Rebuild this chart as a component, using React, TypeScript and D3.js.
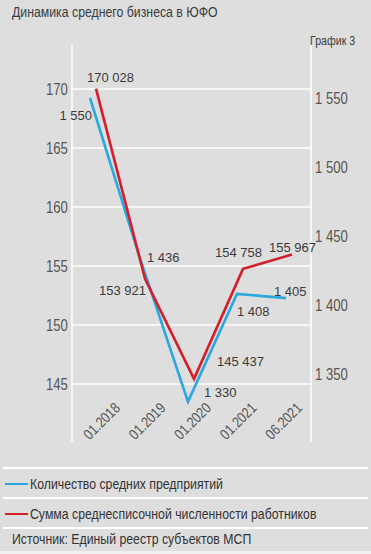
import React, { useEffect, useRef } from "react";
import * as d3 from "d3";

// chart data
const periods = ["01.2018", "01.2019", "01.2020", "01.2021", "06.2021"];
const enterprises = [1550, 1436, 1330, 1408, 1405];
const employees = [170028, 153921, 145437, 154758, 155967];
const leftTicks = [145, 150, 155, 160, 165, 170];
const rightTicks = [1350, 1400, 1450, 1500, 1550];

const title = "Динамика среднего бизнеса в ЮФО";
const chartNo = "График 3";
const legendBlue = "Количество средних предприятий";
const legendRed = "Сумма среднесписочной численности работников";
const source = "Источник: Единый реестр субъектов МСП";

// label offsets (layout only)
const redLabelPos = [
  { dx: -9, dy: -7, anchor: "start" },
  { dx: 1, dy: 16, anchor: "end" },
  { dx: 23, dy: -13, anchor: "start" },
  { dx: -28, dy: -12, anchor: "start" },
  { dx: -23, dy: -3, anchor: "start" },
];
const blueLabelPos = [
  { dx: 2, dy: 22, anchor: "end" },
  { dx: 8, dy: 7, anchor: "start" },
  { dx: 16, dy: -5, anchor: "start" },
  { dx: 0, dy: 22, anchor: "start" },
  { dx: -12, dy: -2, anchor: "start" },
];

const W = 371;
const H = 554;
const BLUE = "#2aa8df";
const RED = "#d21f2b";
const BG = "#dedede";
const FONT = "'Liberation Sans', Arial, sans-serif";
// no narrow font installed, so squeeze Liberation Sans like Arial Narrow
const SQUEEZE = 0.82;

const App = () => {
  const svgRef = useRef(null);

  useEffect(() => {
    const svg = d3.select(svgRef.current);
    svg.selectAll("*").remove();

    const fmt = d3.formatLocale({
      decimal: ",",
      thousands: " ",
      grouping: [3],
      currency: ["", ""],
    }).format(",");

    const narrow = (x, y, size, txt, fill = "#3c3c3c") =>
      svg.append("text")
        .attr("transform", `translate(${x},${y}) scale(${SQUEEZE},1)`)
        .attr("font-family", FONT).attr("font-size", size)
        .attr("fill", fill).text(txt);

    const plot = { left: 72, right: 311, top: 45, bottom: 442 };

    const x = d3.scalePoint().domain(periods).range([93, 289]);
    const xLab = d3.scalePoint().domain(periods).range([121, 303]);
    const yL = d3.scaleLinear().domain([145000, 170000]).range([384, 89]);
    const yR = d3.scaleLinear().domain([1350, 1550]).range([374, 98]);

    svg.append("rect").attr("width", W).attr("height", H).attr("fill", BG);

    // title
    narrow(12, 17, 15, title);
    narrow(310, 45, 13, chartNo);

    // grid lines
    svg.append("g")
      .selectAll("line")
      .data(leftTicks)
      .join("line")
      .attr("x1", plot.left).attr("x2", plot.right + 1)
      .attr("y1", (d) => yL(d * 1000)).attr("y2", (d) => yL(d * 1000))
      .attr("stroke", "#fff").attr("stroke-width", 1.5);

    [plot.left, plot.right].forEach((px) => {
      svg.append("line")
        .attr("x1", px).attr("x2", px)
        .attr("y1", plot.top).attr("y2", plot.bottom)
        .attr("stroke", "#fff").attr("stroke-width", 1.5);
    });

    // left axis
    const gl = svg.append("g")
      .attr("transform", `translate(${plot.left},0)`)
      .call(
        d3.axisLeft(yL)
          .tickValues(leftTicks.map((d) => d * 1000))
          .tickFormat((d) => String(+d / 1000))
          .tickSize(0)
          .tickPadding(5)
      );
    gl.select(".domain").remove();
    gl.selectAll("text")
      .attr("font-family", FONT).attr("font-size", 16).attr("fill", "#555")
      .attr("transform", `scale(${SQUEEZE},1)`);

    // right axis
    const gr = svg.append("g")
      .attr("transform", `translate(${plot.right},0)`)
      .call(
        d3.axisRight(yR)
          .tickValues(rightTicks)
          .tickFormat((d) => fmt(+d))
          .tickSize(0)
          .tickPadding(5)
      );
    gr.select(".domain").remove();
    gr.selectAll("text")
      .attr("font-family", FONT).attr("font-size", 16).attr("fill", "#555")
      .attr("transform", `scale(${SQUEEZE},1)`);

    // x labels
    svg.append("g")
      .selectAll("text")
      .data(periods)
      .join("text")
      .attr("transform", (d) => `translate(${xLab(d)},409) rotate(-45) scale(${SQUEEZE},1)`)
      .attr("text-anchor", "end")
      .attr("font-family", FONT).attr("font-size", 15)
      .attr("fill", "#555")
      .text((d) => d);

    // lines
    const redLine = d3.line<number>()
      .x((d, i) => (x(periods[i]) as number) + 3)
      .y((d) => yL(d));
    const blueLine = d3.line<number>()
      .x((d, i) => (x(periods[i]) as number) - 3)
      .y((d) => yR(d));

    svg.append("path")
      .datum(enterprises)
      .attr("d", blueLine)
      .attr("fill", "none").attr("stroke", BLUE)
      .attr("stroke-width", 2.6).attr("stroke-linejoin", "miter");
    svg.append("path")
      .datum(employees)
      .attr("d", redLine)
      .attr("fill", "none").attr("stroke", RED)
      .attr("stroke-width", 2.6).attr("stroke-linejoin", "miter");

    // value labels
    svg.append("g")
      .selectAll("text")
      .data(employees)
      .join("text")
      .attr("x", (d, i) => (x(periods[i]) as number) + 3 + redLabelPos[i].dx)
      .attr("y", (d) => yL(d))
      .attr("dy", (d, i) => redLabelPos[i].dy)
      .attr("text-anchor", (d, i) => redLabelPos[i].anchor)
      .attr("font-family", FONT).attr("font-size", 13)
      .attr("fill", "#3a3a3a")
      .text((d) => fmt(d));
    svg.append("g")
      .selectAll("text")
      .data(enterprises)
      .join("text")
      .attr("x", (d, i) => (x(periods[i]) as number) - 3 + blueLabelPos[i].dx)
      .attr("y", (d) => yR(d))
      .attr("dy", (d, i) => blueLabelPos[i].dy)
      .attr("text-anchor", (d, i) => blueLabelPos[i].anchor)
      .attr("font-family", FONT).attr("font-size", 13)
      .attr("fill", "#3a3a3a")
      .text((d) => fmt(d));

    // legend
    [468, 498, 528].forEach((ly) => {
      svg.append("line")
        .attr("x1", 3).attr("x2", 368)
        .attr("y1", ly).attr("y2", ly)
        .attr("stroke", "#fff").attr("stroke-width", 2);
    });
    const legend = [
      { label: legendBlue, color: BLUE, y: 484 },
      { label: legendRed, color: RED, y: 514 },
    ];
    legend.forEach((l) => {
      svg.append("line")
        .attr("x1", 5).attr("x2", 28)
        .attr("y1", l.y).attr("y2", l.y)
        .attr("stroke", l.color).attr("stroke-width", 2);
      narrow(30, l.y + 5, 15, l.label, "#333");
    });
    narrow(12, 544, 15, source, "#333");
    svg.append("rect")
      .attr("x", 0).attr("y", 551).attr("width", W).attr("height", 3)
      .attr("fill", "#f0f0f0");
  }, []);

  return (
    <div>
      <style>{`body{margin:0}`}</style>
      <svg ref={svgRef} width={W} height={H} style={{ display: "block" }}></svg>
    </div>
  );
};

export default App;
